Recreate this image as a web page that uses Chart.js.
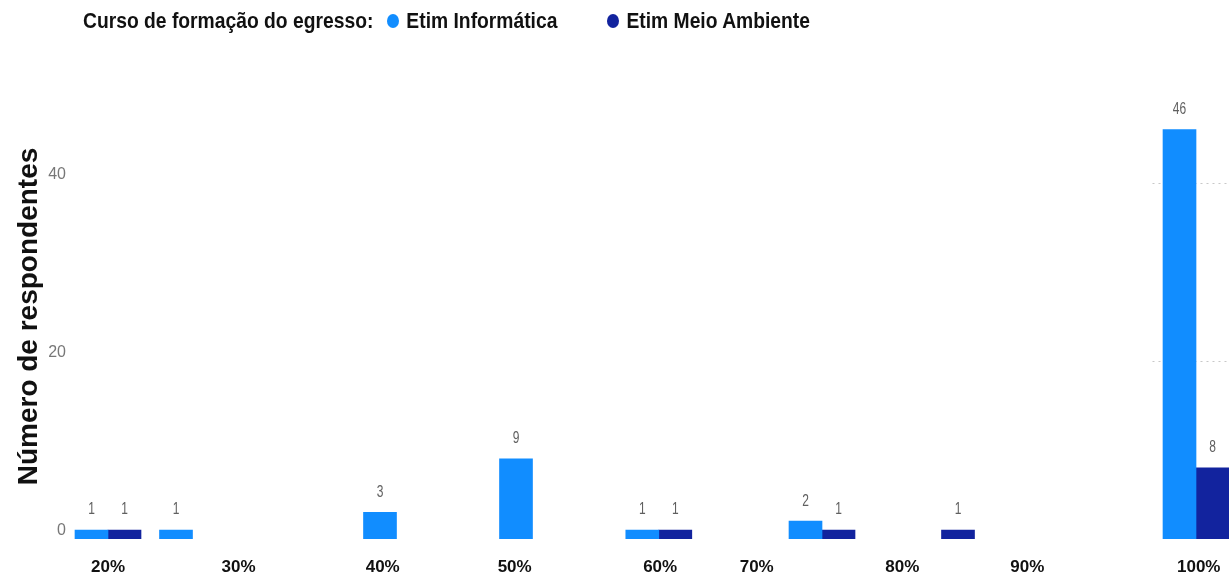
<!DOCTYPE html>
<html lang="pt-BR">
<head>
<meta charset="utf-8">
<title>Número de respondentes por curso</title>
<script src="https://cdn.jsdelivr.net/npm/chart.js@4/dist/chart.umd.min.js"></script>
<style>
  html, body { margin: 0; padding: 0; background: #fff; }
  #wrap { position: relative; width: 1229px; height: 579px; overflow: hidden; }
  #legend {
    position: absolute; left: 83px; top: 7px; height: 28px;
    display: flex; align-items: center;
    font-family: "Liberation Sans", Arial, sans-serif;
    font-weight: bold; font-size: 19.3px; color: #111; white-space: nowrap;
    transform: scaleY(1.18); transform-origin: 0 50%;
  }
  #legend .title { margin-right: 14px; }
  #legend .item { display: flex; align-items: center; margin-right: 50px; }
  #legend .dot { width: 12px; height: 12px; border-radius: 50%; margin-right: 7px; }
  canvas { position: absolute; left: 0; top: 0; }
</style>
</head>
<body>
<div id="wrap">
  <canvas id="chart" width="1229" height="579"></canvas>
  <div id="legend"></div>
</div>
<script>
// Percentual do curso concluído (posição no eixo) e número de respondentes por curso
const percentuais = [20, 25, 40, 50, 60.5, 72.5, 82.5, 100];
const etimInformatica = [1, 1, 3, 9, 1, 2, null, 46];
const etimMeioAmbiente = [1, null, null, null, 1, 1, 1, 8];

// Rótulos do eixo horizontal e onde cada um fica no eixo
const rotulosX = ['20%', '30%', '40%', '50%', '60%', '70%', '80%', '90%', '100%'];
const posicoesRotulosX = [20, 29.6, 40.2, 49.9, 60.6, 67.7, 78.4, 87.6, 100.2];

// Marcas do eixo vertical
const marcasY = [0, 20, 40];

const legendaTitulo = 'Curso de formação do egresso:';
const tituloEixoY = 'Número de respondentes';

const SANS = '"Liberation Sans", Arial, sans-serif';

const pontos = serie => percentuais.map((x, i) => ({ x, y: serie[i] }));

// Rótulos de valor acima de cada barra (texto estreito e alto)
const rotulosValor = {
  id: 'rotulosValor',
  afterDatasetsDraw(chart) {
    const ctx = chart.ctx;
    chart.data.datasets.forEach((ds, di) => {
      const meta = chart.getDatasetMeta(di);
      meta.data.forEach((bar, i) => {
        const v = ds.data[i].y;
        if (v === null || v === undefined) return;
        ctx.save();
        ctx.translate(bar.x, bar.y - 20);
        ctx.scale(1, 1.3);
        ctx.font = '12px ' + SANS;
        ctx.fillStyle = '#606060';
        ctx.textAlign = 'center';
        ctx.textBaseline = 'middle';
        ctx.fillText(String(v), 0, 0);
        ctx.restore();
      });
    });
  }
};

// Linhas de grade pontilhadas curtas, só à direita
const gradeCurta = {
  id: 'gradeCurta',
  beforeDatasetsDraw(chart, args, opts) {
    const { ctx, chartArea, scales } = chart;
    const x0 = scales.x.getPixelForValue(opts.inicio);
    ctx.save();
    ctx.strokeStyle = '#c8c8c8';
    ctx.lineWidth = 1;
    ctx.setLineDash([2, 4]);
    marcasY.filter(v => v > 0).forEach(v => {
      const y = Math.round(scales.y.getPixelForValue(v)) + 0.5;
      ctx.beginPath();
      ctx.moveTo(x0, y);
      ctx.lineTo(chartArea.right, y);
      ctx.stroke();
    });
    ctx.restore();
  }
};

const chart = new Chart(document.getElementById('chart'), {
  type: 'bar',
  data: {
    datasets: [
      { label: 'Etim Informática', data: pontos(etimInformatica), backgroundColor: '#118DFF' },
      { label: 'Etim Meio Ambiente', data: pontos(etimMeioAmbiente), backgroundColor: '#12239E' }
    ]
  },
  options: {
    responsive: false,
    animation: false,
    skipNull: true,
    barThickness: 33,
    layout: { padding: { top: 94, left: 0, right: 0, bottom: 0 } },
    plugins: {
      legend: { display: false },
      tooltip: { enabled: false },
      gradeCurta: { inicio: 96.8 }
    },
    scales: {
      x: {
        type: 'linear',
        offset: false,
        min: 17.353,
        max: 102.426,
        grid: { display: false, drawTicks: false, offset: false },
        border: { display: false },
        afterBuildTicks: s => { s.ticks = posicoesRotulosX.map(v => ({ value: v })); },
        afterFit: s => { s.height = 40; s.paddingLeft = 0; s.paddingRight = 0; },
        ticks: {
          autoSkip: false,
          maxRotation: 0,
          padding: 18,
          color: '#111',
          font: { family: SANS, size: 17, weight: 'bold' },
          callback: (v, i) => rotulosX[i]
        }
      },
      y: {
        min: 0,
        max: 50,
        grid: { display: false, drawTicks: false },
        border: { display: false },
        afterBuildTicks: s => { s.ticks = marcasY.map(v => ({ value: v })); },
        afterFit: s => { s.width = 72; s.paddingTop = 0; s.paddingBottom = 0; },
        ticks: {
          padding: 6,
          labelOffset: -8,
          color: '#777',
          font: { family: SANS, size: 16 }
        },
        title: {
          display: true,
          text: tituloEixoY,
          color: '#111',
          padding: { top: 12, bottom: 0 },
          font: { family: SANS, size: 28, weight: 'bold' }
        }
      }
    }
  },
  plugins: [rotulosValor, gradeCurta]
});

// Legenda com título à esquerda, construída a partir das séries
const legenda = document.getElementById('legend');
const tit = document.createElement('span');
tit.className = 'title';
tit.textContent = legendaTitulo;
legenda.appendChild(tit);
chart.data.datasets.forEach(ds => {
  const item = document.createElement('span');
  item.className = 'item';
  const dot = document.createElement('span');
  dot.className = 'dot';
  dot.style.background = ds.backgroundColor;
  const txt = document.createElement('span');
  txt.textContent = ds.label;
  item.appendChild(dot);
  item.appendChild(txt);
  legenda.appendChild(item);
});
</script>
</body>
</html>
